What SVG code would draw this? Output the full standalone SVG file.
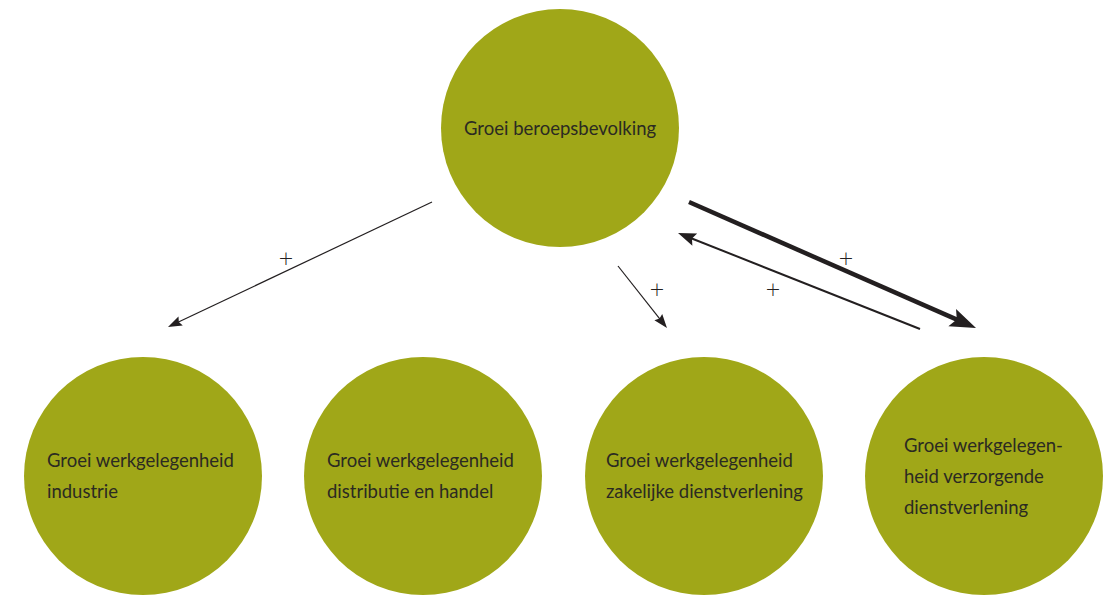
<svg xmlns="http://www.w3.org/2000/svg" width="1109" height="595" viewBox="0 0 1109 595">
<style>
.node circle{fill:#a0a718}
.node text{font-family:Lato,"Open Sans","Noto Sans",sans-serif;font-size:18.5px;fill:#2b2a22}
.lbl{font-family:"DejaVu Sans",sans-serif;font-size:19px;font-weight:300;fill:#231f20;text-anchor:middle}
.conn line{stroke:#231f20;fill:none}
</style>
<defs>
<marker id="ahS" markerUnits="userSpaceOnUse" markerWidth="14" markerHeight="10" refX="10" refY="5" orient="auto" overflow="visible">
<path d="M0,0 L14,5 L0,10 L2,5 z" fill="#231f20"/>
</marker>
<marker id="ahM" markerUnits="userSpaceOnUse" markerWidth="18" markerHeight="13" refX="12" refY="6.5" orient="auto" overflow="visible">
<path d="M0,0 L18,6.5 L0,13 L3,6.5 z" fill="#231f20"/>
</marker>
<marker id="ahL" markerUnits="userSpaceOnUse" markerWidth="26" markerHeight="19" refX="12" refY="9.5" orient="auto" overflow="visible">
<path d="M0,0 L26,9.5 L0,19 L5,9.5 z" fill="#231f20"/>
</marker>
</defs>
<rect width="1109" height="595" fill="#ffffff"/>
<g id="n-top" class="node">
<circle cx="560" cy="128" r="119"/>
<text x="464" y="135">Groei beroepsbevolking</text>
</g>
<g id="n-industrie" class="node">
<circle cx="143" cy="476" r="119"/>
<text x="47" y="467">Groei werkgelegenheid</text>
<text x="47" y="498">industrie</text>
</g>
<g id="n-distributie" class="node">
<circle cx="423" cy="476" r="119"/>
<text x="327" y="467">Groei werkgelegenheid</text>
<text x="327" y="498">distributie en handel</text>
</g>
<g id="n-zakelijk" class="node">
<circle cx="704" cy="476" r="119"/>
<text x="606" y="467">Groei werkgelegenheid</text>
<text x="606" y="498">zakelijke dienstverlening</text>
</g>
<g id="n-verzorgend" class="node">
<circle cx="984" cy="476" r="119"/>
<text x="904" y="452">Groei werkgelegen-</text>
<text x="904" y="483">heid verzorgende</text>
<text x="904" y="514">dienstverlening</text>
</g>
<g id="connectors" class="conn">
<line x1="432" y1="202" x2="171.6" y2="325.3" stroke-width="1.2" marker-end="url(#ahS)"/>
<line x1="618" y1="266" x2="664.5" y2="324.9" stroke-width="1.2" marker-end="url(#ahS)"/>
<line x1="689" y1="202" x2="963.2" y2="322.4" stroke-width="4.5" marker-end="url(#ahL)"/>
<line x1="920" y1="329" x2="683.6" y2="235.2" stroke-width="2" marker-end="url(#ahM)"/>
<text class="lbl" x="286" y="265">+</text>
<text class="lbl" x="657" y="296">+</text>
<text class="lbl" x="846" y="265">+</text>
<text class="lbl" x="773" y="296">+</text>
</g>
</svg>
